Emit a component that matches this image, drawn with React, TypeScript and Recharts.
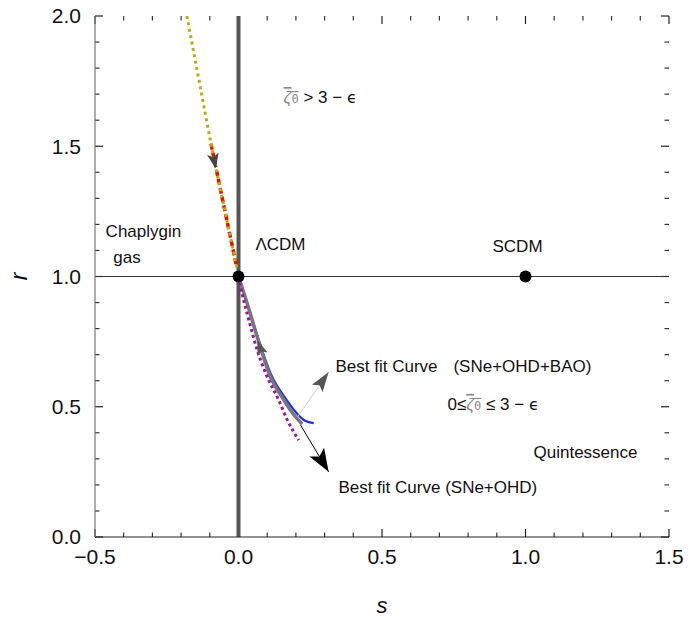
import React from "react";
import { ComposedChart, Line, Scatter, XAxis, YAxis, ReferenceLine, ReferenceDot } from "recharts";

const FONT = "'Liberation Sans', Arial, sans-serif";

// axis ticks: every 0.1, labelled at multiples of 0.5
const xTicks = Array.from({ length: 21 }, (_, i) => Math.round((-0.5 + i * 0.1) * 10) / 10);
const yTicks = Array.from({ length: 21 }, (_, i) => Math.round(i * 0.1 * 10) / 10);
const isMajor = (v: number) => Math.abs(v * 2 - Math.round(v * 2)) < 1e-6;
const xMajor = xTicks.filter(isMajor);
const yMajor = yTicks.filter(isMajor);

const X_DOMAIN: [number, number] = [-0.5, 1.5];
const Y_DOMAIN: [number, number] = [0, 2];

// trajectories in the s-r plane
const chaplyginBranch = [
  { s: -0.18, r: 2.0 },
  { s: -0.137, r: 1.75 },
  { s: -0.094, r: 1.5 },
  { s: -0.047, r: 1.25 },
  { s: -0.022, r: 1.12 },
  { s: 0, r: 1.0 },
];
const redSegment = [
  { s: -0.096, r: 1.51 },
  { s: -0.047, r: 1.25 },
  { s: -0.007, r: 1.04 },
];
const blueFit = [
  { s: 0, r: 1.0 },
  { s: 0.03, r: 0.9 },
  { s: 0.066, r: 0.772 },
  { s: 0.115, r: 0.62 },
  { s: 0.165, r: 0.53 },
  { s: 0.207, r: 0.47 },
  { s: 0.232, r: 0.446 },
  { s: 0.262, r: 0.437 },
];
const grayFit = [
  { s: 0, r: 1.0 },
  { s: 0.03, r: 0.897 },
  { s: 0.065, r: 0.769 },
  { s: 0.111, r: 0.616 },
  { s: 0.158, r: 0.526 },
  { s: 0.199, r: 0.461 },
  { s: 0.222, r: 0.434 },
];
const purpleFit = [
  { s: 0, r: 1.0 },
  { s: 0.007, r: 0.961 },
  { s: 0.036, r: 0.833 },
  { s: 0.065, r: 0.718 },
  { s: 0.1, r: 0.615 },
  { s: 0.14, r: 0.526 },
  { s: 0.17, r: 0.449 },
  { s: 0.21, r: 0.372 },
];

// arrows: tail -> tip
const upperHead = [{ s: -0.093, r: 1.49 }, { s: -0.079, r: 1.415 }];
const lowerHead = [{ s: 0.088, r: 0.688 }, { s: 0.066, r: 0.755 }];
const baoArrow = [{ s: 0.206, r: 0.461 }, { s: 0.314, r: 0.633 }];
const ohdArrow = [{ s: 0.216, r: 0.43 }, { s: 0.314, r: 0.25 }];

const fixedPoints = [{ s: 0, r: 1 }, { s: 1, r: 1 }];

const notes = [
  { s: 0.157, r: 1.666, text: "ζ₀ > 3 − ϵ" },
  { s: -0.463, r: 1.152, text: "Chaplygin" },
  { s: -0.436, r: 1.052, text: "gas" },
  { s: 0.059, r: 1.102, text: "ΛCDM" },
  { s: 0.885, r: 1.094, text: "SCDM" },
  { s: 0.338, r: 0.633, text: "Best fit Curve" },
  { s: 0.749, r: 0.633, text: "(SNe+OHD+BAO)" },
  { s: 0.728, r: 0.488, text: "0≤ζ₀ ≤ 3 − ϵ" },
  { s: 1.028, r: 0.303, text: "Quintessence" },
  { s: 0.348, r: 0.169, text: "Best fit Curve (SNe+OHD)" },
];

// inward frame ticks, length given in px and turned into data units
const PLOT_W = 574;
const PLOT_H = 521;
const xLen = (px: number) => (px * (X_DOMAIN[1] - X_DOMAIN[0])) / PLOT_W;
const yLen = (px: number) => (px * (Y_DOMAIN[1] - Y_DOMAIN[0])) / PLOT_H;
const tickPx = (v: number) => (isMajor(v) ? 8 : 4.5);
const tickColor = (v: number) => (isMajor(v) ? "#222" : "#333");

const fmt = (v: number) => v.toFixed(1).replace("-", "\u2212");

const XLabel = (props: any) => (
  <text x={props.x} y={Number(props.y) + 27} textAnchor="middle" fontSize={21} fontFamily={FONT} fill="#111">
    {fmt(props.payload.value)}
  </text>
);
const YLabel = (props: any) => (
  <text x={Number(props.x) - 14} y={props.y} dy="0.355em" textAnchor="end" fontSize={21} fontFamily={FONT} fill="#111">
    {fmt(props.payload.value)}
  </text>
);

function NoteText({ x, y, text }: { x: number; y: number; text: string }) {
  const parts = text.split("ζ₀");
  const tail = (p: string) =>
    p.split("ϵ").map((q, j) => (
      <React.Fragment key={j}>
        {j > 0 && <tspan fontFamily="'DejaVu Sans', sans-serif" fontSize={16}>ϵ</tspan>}
        {q && <tspan>{q}</tspan>}
      </React.Fragment>
    ));
  return (
    <text x={x} y={y} fontSize={17} fontFamily={FONT} fill="#111">
      {parts.map((p, i) => (
        <React.Fragment key={i}>
          {i > 0 && (
            <tspan fill="#888" style={{ textDecoration: "overline" }}>
              <tspan fontStyle="italic">ζ</tspan>
              <tspan fontFamily="'DejaVu Sans Mono', monospace" fontSize={12}>0</tspan>
            </tspan>
          )}
          {tail(p)}
        </React.Fragment>
      ))}
    </text>
  );
}

const axisCommon = {
  type: "number" as const,
  interval: 0 as const,
  allowDataOverflow: true,
  tickLine: false,
  tickSize: 0,
  tickMargin: 0,
};

export default function App() {
  return (
    <div style={{ position: "absolute", left: 0, top: 0, width: 692, height: 618, background: "#fff" }}>
      <svg width={0} height={0} style={{ position: "absolute" }}>
        <defs>
          <marker id="headDark" viewBox="0 0 15 12" refX={15} refY={6} markerWidth={15} markerHeight={12} orient="auto" markerUnits="userSpaceOnUse">
            <path d="M0,0 L15,6 L0,12 L3.5,6 Z" fill="#444" />
          </marker>
          <marker id="headGray" viewBox="0 0 20 13" refX={20} refY={6.5} markerWidth={20} markerHeight={13} orient="auto" markerUnits="userSpaceOnUse">
            <path d="M0,0 L20,6.5 L0,13 L4,6.5 Z" fill="#555" />
          </marker>
          <marker id="headGraySmall" viewBox="0 0 15 11" refX={15} refY={5.5} markerWidth={15} markerHeight={11} orient="auto" markerUnits="userSpaceOnUse">
            <path d="M0,0 L15,5.5 L0,11 L3,5.5 Z" fill="#555" />
          </marker>
          <marker id="headBlack" viewBox="0 0 23 17" refX={23} refY={8.5} markerWidth={23} markerHeight={17} orient="auto" markerUnits="userSpaceOnUse">
            <path d="M0,0 L23,8.5 L0,17 L5,8.5 Z" fill="#000" />
          </marker>
        </defs>
      </svg>
      <ComposedChart width={692} height={618} margin={{ top: 16, right: 23, bottom: 0, left: 0 }}>
        <XAxis
          {...axisCommon}
          dataKey="s"
          domain={X_DOMAIN}
          ticks={xMajor}
          height={81}
          tick={<XLabel />}
          axisLine={{ stroke: "#222", strokeWidth: 1.2 }}
          label={{
            content: (p: any) => (
              <text x={p.viewBox.x + p.viewBox.width / 2} y={p.viewBox.y + 76} textAnchor="middle" fontSize={22} fontStyle="italic" fontFamily={FONT} fill="#111">
                s
              </text>
            ),
          }}
        />
        <XAxis {...axisCommon} xAxisId="top" orientation="top" dataKey="s" domain={X_DOMAIN} ticks={xMajor} height={0} tick={false} axisLine={{ stroke: "#888", strokeWidth: 1.2 }} />
        <YAxis
          {...axisCommon}
          domain={Y_DOMAIN}
          ticks={yMajor}
          width={95}
          tick={<YLabel />}
          axisLine={{ stroke: "#777", strokeWidth: 1.2 }}
          label={{
            content: (p: any) => {
              const cx = p.viewBox.x + 27;
              const cy = p.viewBox.y + p.viewBox.height / 2;
              return (
                <text x={cx} y={cy} transform={`rotate(-90, ${cx}, ${cy})`} textAnchor="middle" fontSize={23} fontStyle="italic" fontFamily={FONT} fill="#111">
                  r
                </text>
              );
            },
          }}
        />
        <YAxis {...axisCommon} yAxisId="right" orientation="right" domain={Y_DOMAIN} ticks={yMajor} width={0} tick={false} axisLine={{ stroke: "#222", strokeWidth: 1.2 }} />

        {xTicks.map((v) => (
          <ReferenceLine key={`b${v}`} segment={[{ x: v, y: Y_DOMAIN[0] }, { x: v, y: Y_DOMAIN[0] + yLen(tickPx(v)) }]} stroke={tickColor(v)} strokeWidth={1.2} ifOverflow="visible" />
        ))}
        {xTicks.map((v) => (
          <ReferenceLine key={`t${v}`} segment={[{ x: v, y: Y_DOMAIN[1] }, { x: v, y: Y_DOMAIN[1] - yLen(tickPx(v)) }]} stroke={tickColor(v)} strokeWidth={1.2} ifOverflow="visible" />
        ))}
        {yTicks.map((v) => (
          <ReferenceLine key={`l${v}`} segment={[{ x: X_DOMAIN[0], y: v }, { x: X_DOMAIN[0] + xLen(tickPx(v)), y: v }]} stroke={tickColor(v)} strokeWidth={1.2} ifOverflow="visible" />
        ))}
        {yTicks.map((v) => (
          <ReferenceLine key={`r${v}`} segment={[{ x: X_DOMAIN[1], y: v }, { x: X_DOMAIN[1] - xLen(tickPx(v)), y: v }]} stroke={tickColor(v)} strokeWidth={1.2} ifOverflow="visible" />
        ))}

        <ReferenceLine y={1} stroke="#333" strokeWidth={1} />
        <ReferenceLine x={0} stroke="#555" strokeWidth={4} />

        <Line data={redSegment} dataKey="r" type="monotone" stroke="#ff0000" strokeWidth={3.5} strokeDasharray="6 3" dot={false} isAnimationActive={false} />
        <Line data={chaplyginBranch} dataKey="r" type="monotone" stroke="#b4b400" strokeWidth={3} strokeDasharray="3 3.5" dot={false} isAnimationActive={false} />
        <Line data={blueFit} dataKey="r" type="monotone" stroke="#1a2bff" strokeWidth={2.2} dot={false} isAnimationActive={false} />
        <Line data={grayFit} dataKey="r" type="monotone" stroke="#777" strokeWidth={3.5} dot={false} isAnimationActive={false} />
        <Line data={purpleFit} dataKey="r" type="monotone" stroke="#a010a8" strokeWidth={3} strokeDasharray="3 3" dot={false} isAnimationActive={false} />

        <Line data={upperHead} dataKey="r" type="linear" stroke="none" markerEnd="url(#headDark)" dot={false} isAnimationActive={false} />
        <Line data={lowerHead} dataKey="r" type="linear" stroke="none" markerEnd="url(#headGraySmall)" dot={false} isAnimationActive={false} />
        <Line data={baoArrow} dataKey="r" type="linear" stroke="#d0d0d0" strokeWidth={1} markerEnd="url(#headGray)" dot={false} isAnimationActive={false} />
        <Line data={ohdArrow} dataKey="r" type="linear" stroke="#000" strokeWidth={1} markerEnd="url(#headBlack)" dot={false} isAnimationActive={false} />

        <Scatter name="fixed points" data={fixedPoints} dataKey="r" isAnimationActive={false} shape={(p: any) => <circle cx={p.cx} cy={p.cy} r={6} fill="#000" />} />

        {notes.map((n) => (
          <ReferenceDot
            key={n.text}
            x={n.s}
            y={n.r}
            r={0}
            fill="none"
            stroke="none"
            label={{ content: (p: any) => <NoteText x={p.viewBox.x} y={p.viewBox.y} text={n.text} /> }}
          />
        ))}
      </ComposedChart>
    </div>
  );
}
